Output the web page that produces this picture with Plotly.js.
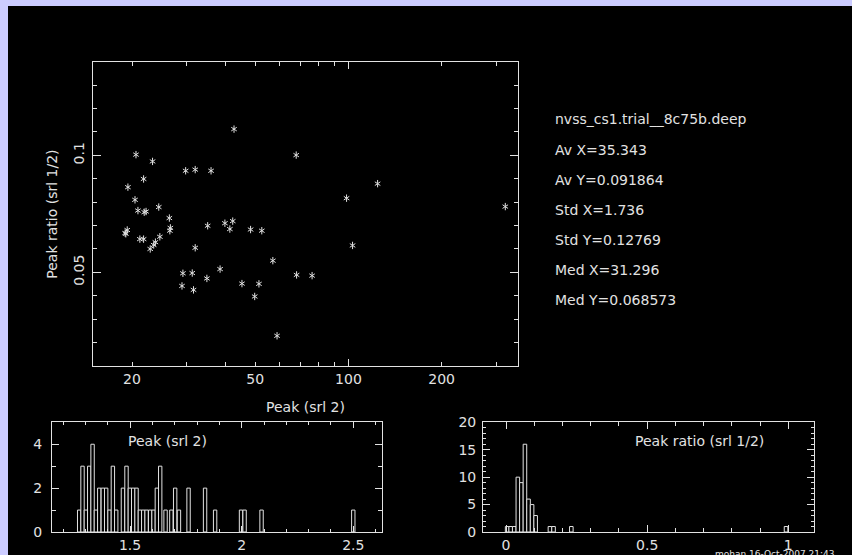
<!DOCTYPE html>
<html><head><meta charset="utf-8">
<script src="https://cdn.plot.ly/plotly-3.0.1.min.js"></script>
<style>
html,body{margin:0;padding:0;background:#ccccff;overflow:hidden;width:852px;height:555px}
#plot{position:absolute;left:8px;top:6px;width:844px;height:549px;}
</style>
</head><body><div id="plot"></div>
<script>
// Scatter: Peak (srl 2) vs Peak ratio (srl 1/2)
const peakSrl2 = [42.7, 67.8, 20.6, 23.3, 29.8, 32.0, 36.0, 21.8, 19.4, 20.45,
  24.4, 20.9, 21.9, 22.2, 26.4, 35.1, 39.9, 42.3, 41.4, 48.3,
  52.5, 26.6, 26.5, 19.0, 19.3, 19.1, 21.2, 21.8, 24.6, 23.8,
  23.5, 22.9, 32.0, 57.0, 38.5, 29.2, 31.3, 34.9, 68.0, 76.3,
  29.0, 31.6, 45.3, 51.4, 49.8, 124.2, 98.6, 321, 103.1, 58.8];
const peakRatio = [0.1112, 0.1001, 0.1003, 0.0974, 0.0934, 0.0939, 0.0934, 0.0899, 0.0864, 0.0810,
  0.0779, 0.0764, 0.0757, 0.0760, 0.0732, 0.0699, 0.0710, 0.0719, 0.0685, 0.0683,
  0.0678, 0.0690, 0.0678, 0.0668, 0.0681, 0.0665, 0.0642, 0.0642, 0.0652, 0.0629,
  0.0617, 0.0600, 0.0605, 0.0550, 0.0514, 0.0496, 0.0497, 0.0474, 0.0489, 0.0486,
  0.0442, 0.0425, 0.0452, 0.0451, 0.0397, 0.0879, 0.0817, 0.0781, 0.0615, 0.0229];

// Histogram of log10 Peak (srl 2)
const histPeakCenters = [1.272, 1.287, 1.302, 1.317, 1.332, 1.347, 1.362, 1.378, 1.393, 1.408,
  1.423, 1.438, 1.468, 1.484, 1.499, 1.514, 1.529, 1.544, 1.559, 1.574,
  1.590, 1.605, 1.620, 1.635, 1.659, 1.685, 1.702, 1.719, 1.762, 1.836,
  1.881, 1.997, 2.013, 2.089, 2.500];
const histPeakCounts = [1, 3, 1, 3, 4, 1, 2, 2, 2, 1,
  3, 1, 2, 3, 2, 2, 2, 1, 1, 1,
  1, 1, 2, 3, 1, 1, 2, 1, 2, 2,
  1, 1, 1, 1, 1];
const histPeakBinWidth = 0.0151;

// Histogram of Peak ratio (srl 1/2)
const histRatioCenters = [0.0039, 0.0165, 0.0290, 0.0418, 0.0544, 0.0670, 0.0797, 0.0923, 0.1049,
  0.1555, 0.1683, 0.2313, 0.992];
const histRatioCounts = [1, 1, 1, 10, 9, 16, 6, 5, 3, 1, 1, 1, 1];
const histRatioBinWidth = 0.01265;

// Text panel
const statsLines = ["nvss_cs1.trial__8c75b.deep", "Av X=35.343", "Av Y=0.091864",
  "Std X=1.736", "Std Y=0.12769", "Med X=31.296", "Med Y=0.068573"];

// Tick labels
const mainXTicks = [20, 50, 100, 200];
const mainXMinor = [30, 40, 60, 70, 80, 90, 300];
const mainXLong = [100];
const mainYTicks = [0.05, 0.1];
const mainYLabels = ['0.05', '0.1'];
const histPeakXTicks = [1.5, 2, 2.5];
const histPeakYTicks = [0, 2, 4];
const histRatioXTicks = [0, 0.5, 1];
const histRatioYTicks = [0, 5, 10, 15, 20];

const FG = '#e2e2e2';
const FONT = 'DejaVu Sans';
const tickFont = {family: FONT, size: 14, color: FG};

function axisBase(extra) {
  return Object.assign({
    showline: true, linecolor: FG, linewidth: 1, mirror: 'ticks',
    ticks: 'inside', tickcolor: FG, tickwidth: 1,
    showgrid: false, zeroline: false, tickfont: tickFont, fixedrange: true
  }, extra);
}
function labelAxis(extra) {
  return Object.assign({
    anchor: 'free', side: 'left', showline: false, ticks: '', showgrid: false, zeroline: false,
    tickfont: tickFont, fixedrange: true, tickmode: 'array'
  }, extra);
}

const traces = [
  {type: 'scatter', mode: 'markers', x: peakSrl2, y: peakRatio, xaxis: 'x', yaxis: 'y',
   marker: {symbol: 'y-up-open', size: 4.6, line: {color: FG, width: 1}, color: FG}, hoverinfo: 'skip'},
  {type: 'scatter', mode: 'markers', x: peakSrl2, y: peakRatio, xaxis: 'x', yaxis: 'y',
   marker: {symbol: 'y-down-open', size: 4.6, line: {color: FG, width: 1}, color: FG}, hoverinfo: 'skip'},
  {type: 'scatter', mode: 'markers', x: [], y: [], xaxis: 'x4', yaxis: 'y', hoverinfo: 'skip'},
  {type: 'scatter', mode: 'markers', x: [], y: [], xaxis: 'x', yaxis: 'y5', hoverinfo: 'skip'},
  {type: 'scatter', mode: 'markers', x: [], y: [], xaxis: 'x2', yaxis: 'y6', hoverinfo: 'skip'},
  {type: 'scatter', mode: 'markers', x: [], y: [], xaxis: 'x3', yaxis: 'y7', hoverinfo: 'skip'},
  {type: 'bar', x: histPeakCenters, y: histPeakCounts, width: histPeakBinWidth, xaxis: 'x2', yaxis: 'y2',
   marker: {color: '#000000', line: {color: FG, width: 1}}, hoverinfo: 'skip'},
  {type: 'bar', x: histRatioCenters, y: histRatioCounts, width: histRatioBinWidth, xaxis: 'x3', yaxis: 'y3',
   marker: {color: '#000000', line: {color: FG, width: 1}}, hoverinfo: 'skip'}
];

const statsY = [0.7936, 0.7386, 0.6836, 0.6286, 0.5736, 0.5186, 0.4636];
const annotations = statsLines.map((t, i) => ({
  text: t, xref: 'paper', yref: 'paper', x: 0.6454, y: statsY[i],
  xanchor: 'left', yanchor: 'middle', showarrow: false, font: {family: FONT, size: 14, color: FG}
}));
annotations.push(
  {text: 'Peak (srl 2)', xref: 'paper', yref: 'paper', x: 0.3525, y: 0.2701, xanchor: 'center', yanchor: 'middle',
   showarrow: false, font: {family: FONT, size: 14, color: FG}},
  {text: 'Peak ratio (srl 1/2)', xref: 'paper', yref: 'paper', x: 0.0518, y: 0.6211, xanchor: 'center', yanchor: 'middle',
   textangle: -90, showarrow: false, font: {family: FONT, size: 14, color: FG}},
  {text: 'Peak (srl 2)', xref: 'paper', yref: 'paper', x: 0.189, y: 0.2077, xanchor: 'center', yanchor: 'middle',
   showarrow: false, font: {family: FONT, size: 14, color: FG}},
  {text: 'Peak ratio (srl 1/2)', xref: 'paper', yref: 'paper', x: 0.8199, y: 0.2077, xanchor: 'center', yanchor: 'middle',
   showarrow: false, font: {family: FONT, size: 14, color: FG}},
  {text: 'mohan 16-Oct-2007 21:43', xref: 'paper', yref: 'paper', x: 0.8357, y: 0.0025, xanchor: 'left', yanchor: 'middle',
   showarrow: false, font: {family: FONT, size: 9, color: FG}}
);

const layout = {
  width: 844, height: 549,
  paper_bgcolor: '#000000', plot_bgcolor: '#000000',
  margin: {l: 0, r: 0, t: 0, b: 0},
  showlegend: false, bargap: 0,
  xaxis: axisBase({type: 'log', domain: [0.1011, 0.6039], anchor: 'y', range: [Math.log10(15), Math.log10(352)],
    tickmode: 'array', tickvals: mainXTicks, ticktext: mainXTicks.map(String), ticklen: 4,
    minor: {tickmode: 'array', tickvals: mainXMinor, ticks: 'inside', ticklen: 4, tickcolor: FG, tickwidth: 1}}),
  xaxis4: {type: 'log', overlaying: 'x', anchor: 'y', range: [Math.log10(15), Math.log10(352)],
    tickmode: 'array', tickvals: mainXLong, ticks: 'inside', ticklen: 7, tickcolor: FG, tickwidth: 1,
    showticklabels: false, showline: false, mirror: 'ticks', showgrid: false, zeroline: false, fixedrange: true},
  yaxis: axisBase({domain: [0.3443, 0.8985], anchor: 'x', range: [0.01, 0.14],
    tickmode: 'array', tickvals: mainYTicks, showticklabels: false, ticklen: 8,
    minor: {dtick: 0.01, tick0: 0, ticks: 'inside', ticklen: 4, tickcolor: FG, tickwidth: 1}}),
  yaxis5: labelAxis({overlaying: 'y', position: 0.0936, range: [0.01, 0.14],
    tickvals: mainYTicks, ticktext: mainYLabels, tickangle: -90}),
  xaxis2: axisBase({domain: [0.0518, 0.4435], anchor: 'y2', range: [1.149, 2.63],
    tickmode: 'array', tickvals: histPeakXTicks, ticktext: ['1.5', '2', '2.5'], ticklen: 6,
    minor: {dtick: 0.1, tick0: 0, ticks: 'inside', ticklen: 3, tickcolor: FG, tickwidth: 1}}),
  yaxis2: axisBase({domain: [0.0419, 0.2417], anchor: 'x2', range: [0, 5],
    tickmode: 'array', tickvals: histPeakYTicks, showticklabels: false, ticklen: 7,
    minor: {dtick: 1, tick0: 0, ticks: 'inside', ticklen: 4, tickcolor: FG, tickwidth: 1}}),
  yaxis6: labelAxis({overlaying: 'y2', position: 0.0405, range: [0, 5],
    tickvals: histPeakYTicks, ticktext: histPeakYTicks.map(String)}),
  xaxis3: axisBase({domain: [0.5632, 0.9553], anchor: 'y3', range: [-0.0804, 1.092],
    tickmode: 'array', tickvals: histRatioXTicks, ticktext: ['0', '0.5', '1'], ticklen: 7,
    minor: {dtick: 0.1, tick0: 0, ticks: 'inside', ticklen: 3.5, tickcolor: FG, tickwidth: 1}}),
  yaxis3: axisBase({domain: [0.0419, 0.2417], anchor: 'x3', range: [0, 20],
    tickmode: 'array', tickvals: histRatioYTicks, showticklabels: false, ticklen: 7,
    minor: {dtick: 1, tick0: 0, ticks: 'inside', ticklen: 3, tickcolor: FG, tickwidth: 1}}),
  yaxis7: labelAxis({overlaying: 'y3', position: 0.5548, range: [0, 20],
    tickvals: histRatioYTicks, ticktext: histRatioYTicks.map(String)}),
  annotations: annotations
};

Plotly.newPlot('plot', traces, layout, {staticPlot: true, displayModeBar: false});
</script>
</body></html>
